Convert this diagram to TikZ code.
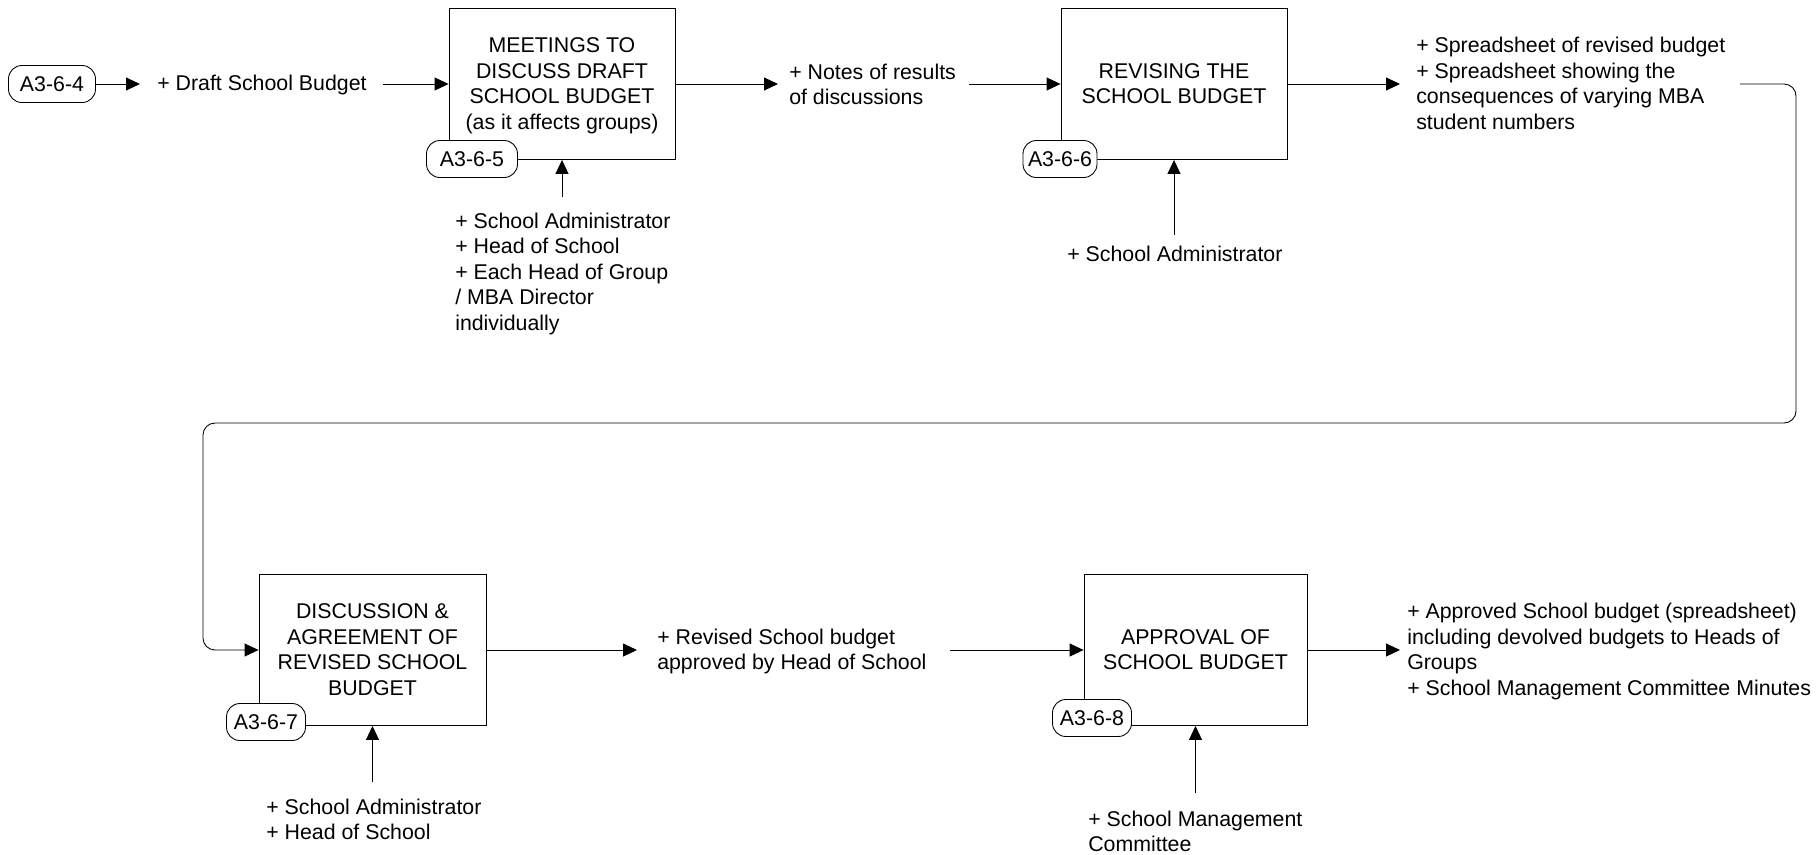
\documentclass[tikz,border=0pt]{standalone}
\usepackage{fontspec}
\setmainfont{Liberation Sans}
\usetikzlibrary{arrows.meta}
\newcommand\sst{\rule[-4.4pt]{0pt}{19.2pt}}
\begin{document}
\begin{tikzpicture}[x=0.75pt,y=-0.75pt,
  every node/.style={font=\fontsize{16pt}{19.2pt}\selectfont, inner sep=0pt},
  proc/.style={draw, line width=0.65pt, align=center, minimum width=169.5pt, minimum height=113.25pt},
  pill/.style={draw, fill=white, line width=0.65pt, rounded corners=10pt, minimum height=27.75pt, inner xsep=2pt},
  lab/.style={align=left, anchor=west},
  ctl/.style={align=left, anchor=north west},
  arr/.style={line width=0.65pt, -{Triangle[length=10.5pt,width=9.75pt]}}]
\useasboundingbox (0,0) rectangle (1819,854);

% process boxes
\node[proc] (b1) at (562,84) {\sst MEETINGS TO\\\sst DISCUSS DRAFT\\\sst SCHOOL BUDGET\\\sst (as it affects groups)};
\node[proc] (b2) at (1174,84) {\sst REVISING THE\\\sst SCHOOL BUDGET};
\node[proc, minimum width=170.25pt] (b3) at (372.5,650) {\sst DISCUSSION \&\\\sst AGREEMENT OF\\\sst REVISED SCHOOL\\\sst BUDGET};
\node[proc, minimum width=167.25pt] (b4) at (1195.5,650) {\sst APPROVAL OF\\\sst SCHOOL BUDGET};

% reference pills
\node[pill, minimum width=65.25pt] (p4) at (52,84) {A3-6-4};
\node[pill, minimum width=68.25pt] (p5) at (472,159) {A3-6-5};
\node[pill, minimum width=55.5pt] (p6) at (1060,159) {A3-6-6};
\node[pill, minimum width=59.25pt] (p7) at (266,722) {A3-6-7};
\node[pill, minimum width=59.25pt] (p8) at (1092,718) {A3-6-8};

% flow labels
\node[lab] (draft) at (157,84) {\sst + Draft School Budget};
\node[lab] (notes) at (789,85) {\sst + Notes of results\\\sst of discussions};
\node[lab] (spread) at (1416,84) {\sst + Spreadsheet of revised budget\\\sst + Spreadsheet showing the\\\sst consequences of varying MBA\\\sst student numbers};
\node[lab] (revised) at (657,650) {\sst + Revised School budget\\\sst approved by Head of School};
\node[lab] (approved) at (1407,650) {\sst + Approved School budget (spreadsheet)\\\sst including devolved budgets to Heads of\\\sst Groups\\\sst + School Management Committee Minutes};

% mechanism labels
\node[ctl] (c1) at (455,208) {\sst + School Administrator\\\sst + Head of School\\\sst + Each Head of Group\\\sst / MBA Director\\\sst individually};
\node[ctl] (c2) at (1067,241) {\sst + School Administrator};
\node[ctl] (c3) at (266,794) {\sst + School Administrator\\\sst + Head of School};
\node[ctl] (c4) at (1088,806) {\sst + School Management\\\sst Committee};

\coordinate (k1) at (562,197);
\coordinate (k2) at (1174,235);
\coordinate (k3) at (373,782);
\coordinate (k4) at (1195,793);
\coordinate (fb) at (1740,84);

% mechanism arrows
\draw[arr] (b1.south |- k1) -- (b1.south);
\draw[arr] (b2.south |- k2) -- (b2.south);
\draw[arr] (b3.south |- k3) -- (b3.south);
\draw[arr] (b4.south |- k4) -- (b4.south);

% flow arrows
\draw[arr, shorten >=12.75pt] (p4.east) -- (p4.east -| draft.west);
\draw[arr, shorten <=12pt] (b1.west -| draft.east) -- (b1.west);
\draw[arr, shorten >=8.25pt] (b1.east) -- (b1.east -| notes.west);
\draw[arr, shorten <=9.75pt] (b2.west -| notes.east) -- (b2.west);
\draw[arr, shorten >=12pt] (b2.east) -- (b2.east -| spread.west);
\draw[arr, rounded corners=9pt] (fb) -- (1796,84) -- (1796,423) -- (203,423) -- (203,650) -- (b3.west);
\draw[arr, shorten >=15pt] (b3.east) -- (b3.east -| revised.west);
\draw[arr, shorten <=17.25pt] (b4.west -| revised.east) -- (b4.west);
\draw[arr, shorten >=5.25pt] (b4.east) -- (b4.east -| approved.west);
\end{tikzpicture}
\end{document}
